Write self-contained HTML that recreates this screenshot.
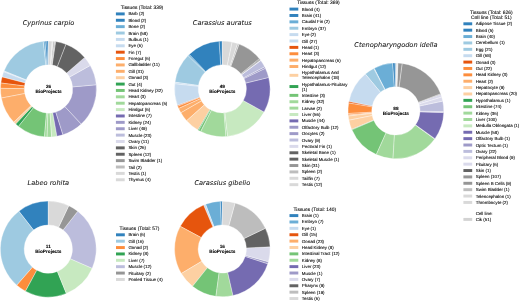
<!DOCTYPE html>
<html><head><meta charset="utf-8"><title>BioProjects tissues</title>
<style>
html,body{margin:0;padding:0;background:#fff}
svg{display:block;opacity:0.999;will-change:transform}
text{text-rendering:geometricPrecision}
.t{font-family:"DejaVu Sans","Liberation Sans",sans-serif;font-style:italic;font-size:6.6px;fill:#111;stroke:#111;stroke-width:0.05px;text-anchor:middle}
.c{font-family:"Liberation Sans",sans-serif;font-weight:bold;font-size:4.72px;fill:#000;stroke:#000;stroke-width:0.08px;text-anchor:middle}
.l{font-family:"Liberation Sans",sans-serif;font-size:4.43px;fill:#000;stroke:#000;stroke-width:0.08px}
.h{font-family:"Liberation Sans",sans-serif;font-size:4.9px;fill:#000;stroke:#000;stroke-width:0.08px;text-anchor:middle}
.w path{stroke:#fff;stroke-width:0.35;stroke-linejoin:round}
</style></head><body>
<svg width="520" height="302" viewBox="0 0 520 302">
<rect width="520" height="302" fill="#fff"/>
<g class="w"><path d="M48.5 41A48 48 0 0 0 46.72 41.03L47.61 64.87A24.14 24.14 0 0 1 48.5 64.86Z" fill="#3182bd"/><path d="M46.72 41.03A48 48 0 0 0 44.94 41.13L46.71 64.92A24.14 24.14 0 0 1 47.61 64.87Z" fill="#3182bd"/><path d="M44.94 41.13A48 48 0 0 0 43.17 41.3L45.82 65.01A24.14 24.14 0 0 1 46.71 64.92Z" fill="#6baed6"/><path d="M43.17 41.3A48 48 0 0 0 4.01 70.99L26.12 79.94A24.14 24.14 0 0 1 45.82 65.01Z" fill="#9ecae1"/><path d="M4.01 70.99A48 48 0 0 0 3.68 71.82L25.96 80.36A24.14 24.14 0 0 1 26.12 79.94Z" fill="#c6dbef"/><path d="M3.68 71.82A48 48 0 0 0 2.05 76.9L25.14 82.91A24.14 24.14 0 0 1 25.96 80.36Z" fill="#c6dbef"/><path d="M2.05 76.9A48 48 0 0 0 0.88 83.01L24.54 85.99A24.14 24.14 0 0 1 25.14 82.91Z" fill="#e6550d"/><path d="M0.88 83.01A48 48 0 0 0 0.5 88.33L24.36 88.66A24.14 24.14 0 0 1 24.54 85.99Z" fill="#fd8d3c"/><path d="M0.5 88.33A48 48 0 0 0 1.36 98.06L24.79 93.56A24.14 24.14 0 0 1 24.36 88.66Z" fill="#fdae6b"/><path d="M1.36 98.06A48 48 0 0 0 13.86 122.23L31.08 105.71A24.14 24.14 0 0 1 24.79 93.56Z" fill="#fdae6b"/><path d="M13.86 122.23A48 48 0 0 0 15.76 124.1L32.03 106.66A24.14 24.14 0 0 1 31.08 105.71Z" fill="#fdd0a2"/><path d="M15.76 124.1A48 48 0 0 0 18.45 126.43L33.38 107.83A24.14 24.14 0 0 1 32.03 106.66Z" fill="#31a354"/><path d="M18.45 126.43A48 48 0 0 0 44.5 136.83L46.49 113.06A24.14 24.14 0 0 1 33.38 107.83Z" fill="#74c476"/><path d="M44.5 136.83A48 48 0 0 0 47.17 136.98L47.83 113.13A24.14 24.14 0 0 1 46.49 113.06Z" fill="#a1d99b"/><path d="M47.17 136.98A48 48 0 0 0 51.61 136.9L50.07 113.09A24.14 24.14 0 0 1 47.83 113.13Z" fill="#a1d99b"/><path d="M51.61 136.9A48 48 0 0 0 56.91 136.26L52.73 112.77A24.14 24.14 0 0 1 50.07 113.09Z" fill="#c7e9c0"/><path d="M56.91 136.26A48 48 0 0 0 62.95 134.77L55.77 112.02A24.14 24.14 0 0 1 52.73 112.77Z" fill="#756bb1"/><path d="M62.95 134.77A48 48 0 0 0 81.24 124.1L64.97 106.66A24.14 24.14 0 0 1 55.77 112.02Z" fill="#9e9ac8"/><path d="M81.24 124.1A48 48 0 0 0 96.31 84.78L72.55 86.88A24.14 24.14 0 0 1 64.97 106.66Z" fill="#9e9ac8"/><path d="M96.31 84.78A48 48 0 0 0 90.29 65.39L69.52 77.12A24.14 24.14 0 0 1 72.55 86.88Z" fill="#bcbddc"/><path d="M90.29 65.39A48 48 0 0 0 84.64 57.41L66.68 73.11A24.14 24.14 0 0 1 69.52 77.12Z" fill="#dadaeb"/><path d="M84.64 57.41A48 48 0 0 0 65.89 44.26L57.25 66.5A24.14 24.14 0 0 1 66.68 73.11Z" fill="#636363"/><path d="M65.89 44.26A48 48 0 0 0 55.59 41.53L52.07 65.12A24.14 24.14 0 0 1 57.25 66.5Z" fill="#636363"/><path d="M55.59 41.53A48 48 0 0 0 54.71 41.4L51.62 65.06A24.14 24.14 0 0 1 52.07 65.12Z" fill="#969696"/><path d="M54.71 41.4A48 48 0 0 0 52.94 41.21L50.73 64.96A24.14 24.14 0 0 1 51.62 65.06Z" fill="#bdbdbd"/><path d="M52.94 41.21A48 48 0 0 0 52.06 41.13L50.29 64.92A24.14 24.14 0 0 1 50.73 64.96Z" fill="#d9d9d9"/><path d="M52.06 41.13A48 48 0 0 0 48.5 41L48.5 64.86A24.14 24.14 0 0 1 50.29 64.92Z" fill="#d9d9d9"/></g>
<text class="t" x="48.5" y="24.7">Cyprinus carpio</text>
<text class="c" x="48.5" y="88.1">26</text><text class="c" x="48.5" y="92.95">BioProjects</text>
<text class="h" x="142" y="9.2">Tissues (Total: 339)</text><rect x="115.9" y="12.43" width="8.8" height="2.95" fill="#3182bd"/><text class="l" x="128.4" y="15.4">Barb (2)</text>
<rect x="115.9" y="18.8" width="8.8" height="2.95" fill="#3182bd"/><text class="l" x="128.4" y="21.78">Blood (2)</text>
<rect x="115.9" y="25.18" width="8.8" height="2.95" fill="#6baed6"/><text class="l" x="128.4" y="28.16">Bone (2)</text>
<rect x="115.9" y="31.56" width="8.8" height="2.95" fill="#9ecae1"/><text class="l" x="128.4" y="34.54">Brain (58)</text>
<rect x="115.9" y="37.95" width="8.8" height="2.95" fill="#c6dbef"/><text class="l" x="128.4" y="40.92">Bulbus (1)</text>
<rect x="115.9" y="44.33" width="8.8" height="2.95" fill="#c6dbef"/><text class="l" x="128.4" y="47.3">Eye (6)</text>
<rect x="115.9" y="50.71" width="8.8" height="2.95" fill="#e6550d"/><text class="l" x="128.4" y="53.68">Fin (7)</text>
<rect x="115.9" y="57.09" width="8.8" height="2.95" fill="#fd8d3c"/><text class="l" x="128.4" y="60.06">Foregut (6)</text>
<rect x="115.9" y="63.47" width="8.8" height="2.95" fill="#fdae6b"/><text class="l" x="128.4" y="66.44">Gallbladder (11)</text>
<rect x="115.9" y="69.85" width="8.8" height="2.95" fill="#fdae6b"/><text class="l" x="128.4" y="72.82">Gill (31)</text>
<rect x="115.9" y="76.23" width="8.8" height="2.95" fill="#fdd0a2"/><text class="l" x="128.4" y="79.2">Gonad (3)</text>
<rect x="115.9" y="82.61" width="8.8" height="2.95" fill="#31a354"/><text class="l" x="128.4" y="85.58">Gut (4)</text>
<rect x="115.9" y="88.98" width="8.8" height="2.95" fill="#74c476"/><text class="l" x="128.4" y="91.96">Head Kidney (32)</text>
<rect x="115.9" y="95.36" width="8.8" height="2.95" fill="#a1d99b"/><text class="l" x="128.4" y="98.34">Heart (3)</text>
<rect x="115.9" y="101.74" width="8.8" height="2.95" fill="#a1d99b"/><text class="l" x="128.4" y="104.72">Hepatopancreas (5)</text>
<rect x="115.9" y="108.12" width="8.8" height="2.95" fill="#c7e9c0"/><text class="l" x="128.4" y="111.1">Hindgut (6)</text>
<rect x="115.9" y="114.5" width="8.8" height="2.95" fill="#756bb1"/><text class="l" x="128.4" y="117.48">Intestine (7)</text>
<rect x="115.9" y="120.88" width="8.8" height="2.95" fill="#9e9ac8"/><text class="l" x="128.4" y="123.86">Kidney (24)</text>
<rect x="115.9" y="127.26" width="8.8" height="2.95" fill="#9e9ac8"/><text class="l" x="128.4" y="130.24">Liver (49)</text>
<rect x="115.9" y="133.64" width="8.8" height="2.95" fill="#bcbddc"/><text class="l" x="128.4" y="136.62">Muscle (23)</text>
<rect x="115.9" y="140.02" width="8.8" height="2.95" fill="#dadaeb"/><text class="l" x="128.4" y="143">Ovary (11)</text>
<rect x="115.9" y="146.4" width="8.8" height="2.95" fill="#636363"/><text class="l" x="128.4" y="149.38">Skin (26)</text>
<rect x="115.9" y="152.78" width="8.8" height="2.95" fill="#636363"/><text class="l" x="128.4" y="155.76">Spleen (12)</text>
<rect x="115.9" y="159.16" width="8.8" height="2.95" fill="#969696"/><text class="l" x="128.4" y="162.14">Swim Bladder (1)</text>
<rect x="115.9" y="165.54" width="8.8" height="2.95" fill="#bdbdbd"/><text class="l" x="128.4" y="168.52">Tail (2)</text>
<rect x="115.9" y="171.92" width="8.8" height="2.95" fill="#d9d9d9"/><text class="l" x="128.4" y="174.9">Testis (1)</text>
<rect x="115.9" y="178.3" width="8.8" height="2.95" fill="#d9d9d9"/><text class="l" x="128.4" y="181.28">Thymus (4)</text>
<g class="w"><path d="M222.3 41.1A47.8 47.8 0 0 0 219.05 41.21L220.66 64.91A24.04 24.04 0 0 1 222.3 64.86Z" fill="#3182bd"/><path d="M219.05 41.21A47.8 47.8 0 0 0 189.15 54.46L205.63 71.58A24.04 24.04 0 0 1 220.66 64.91Z" fill="#3182bd"/><path d="M189.15 54.46A47.8 47.8 0 0 0 188 55.61L205.05 72.15A24.04 24.04 0 0 1 205.63 71.58Z" fill="#6baed6"/><path d="M188 55.61A47.8 47.8 0 0 0 174.97 82.21L198.49 85.53A24.04 24.04 0 0 1 205.05 72.15Z" fill="#9ecae1"/><path d="M174.97 82.21A47.8 47.8 0 0 0 174.77 83.82L198.39 86.35A24.04 24.04 0 0 1 198.49 85.53Z" fill="#c6dbef"/><path d="M174.77 83.82A47.8 47.8 0 0 0 177.45 105.44L199.74 97.22A24.04 24.04 0 0 1 198.39 86.35Z" fill="#c6dbef"/><path d="M177.45 105.44A47.8 47.8 0 0 0 177.74 106.2L199.89 97.6A24.04 24.04 0 0 1 199.74 97.22Z" fill="#e6550d"/><path d="M177.74 106.2A47.8 47.8 0 0 0 178.68 108.45L200.36 98.74A24.04 24.04 0 0 1 199.89 97.6Z" fill="#fd8d3c"/><path d="M178.68 108.45A47.8 47.8 0 0 0 180.9 112.8L201.48 100.92A24.04 24.04 0 0 1 200.36 98.74Z" fill="#fdae6b"/><path d="M180.9 112.8A47.8 47.8 0 0 0 186.61 120.7L204.35 104.9A24.04 24.04 0 0 1 201.48 100.92Z" fill="#fdae6b"/><path d="M186.61 120.7A47.8 47.8 0 0 0 197.87 129.99L210.01 109.57A24.04 24.04 0 0 1 204.35 104.9Z" fill="#fdd0a2"/><path d="M197.87 129.99A47.8 47.8 0 0 0 198.58 130.4L210.37 109.77A24.04 24.04 0 0 1 210.01 109.57Z" fill="#31a354"/><path d="M198.58 130.4A47.8 47.8 0 0 0 200.73 131.55L211.45 110.36A24.04 24.04 0 0 1 210.37 109.77Z" fill="#74c476"/><path d="M200.73 131.55A47.8 47.8 0 0 0 225.96 136.56L224.14 112.87A24.04 24.04 0 0 1 211.45 110.36Z" fill="#a1d99b"/><path d="M225.96 136.56A47.8 47.8 0 0 0 227.58 136.41L224.96 112.8A24.04 24.04 0 0 1 224.14 112.87Z" fill="#a1d99b"/><path d="M227.58 136.41A47.8 47.8 0 0 0 264.1 112.09L243.32 100.57A24.04 24.04 0 0 1 224.96 112.8Z" fill="#c7e9c0"/><path d="M264.1 112.09A47.8 47.8 0 0 0 268.7 77.42L245.64 83.12A24.04 24.04 0 0 1 243.32 100.57Z" fill="#756bb1"/><path d="M268.7 77.42A47.8 47.8 0 0 0 265.4 68.24L243.98 78.51A24.04 24.04 0 0 1 245.64 83.12Z" fill="#9e9ac8"/><path d="M265.4 68.24A47.8 47.8 0 0 0 264.68 66.78L243.61 77.78A24.04 24.04 0 0 1 243.98 78.51Z" fill="#9e9ac8"/><path d="M264.68 66.78A47.8 47.8 0 0 0 260.8 60.57L241.67 74.65A24.04 24.04 0 0 1 243.61 77.78Z" fill="#bcbddc"/><path d="M260.8 60.57A47.8 47.8 0 0 0 260.31 59.92L241.42 74.32A24.04 24.04 0 0 1 241.67 74.65Z" fill="#dadaeb"/><path d="M260.31 59.92A47.8 47.8 0 0 0 259.82 59.28L241.17 74A24.04 24.04 0 0 1 241.42 74.32Z" fill="#636363"/><path d="M259.82 59.28A47.8 47.8 0 0 0 259.31 58.64L240.91 73.68A24.04 24.04 0 0 1 241.17 74Z" fill="#636363"/><path d="M259.31 58.64A47.8 47.8 0 0 0 239.03 44.12L230.72 66.38A24.04 24.04 0 0 1 240.91 73.68Z" fill="#969696"/><path d="M239.03 44.12A47.8 47.8 0 0 0 237.5 43.58L229.94 66.1A24.04 24.04 0 0 1 230.72 66.38Z" fill="#bdbdbd"/><path d="M237.5 43.58A47.8 47.8 0 0 0 232 42.09L227.18 65.36A24.04 24.04 0 0 1 229.94 66.1Z" fill="#d9d9d9"/><path d="M232 42.09A47.8 47.8 0 0 0 222.3 41.1L222.3 64.86A24.04 24.04 0 0 1 227.18 65.36Z" fill="#d9d9d9"/></g>
<text class="t" x="222.3" y="24.6">Carassius auratus</text>
<text class="c" x="222.3" y="88">49</text><text class="c" x="222.3" y="92.85">BioProjects</text>
<text class="h" x="318.5" y="4">Tissues (Total: 369)</text><rect x="289.5" y="7.62" width="8.8" height="2.95" fill="#3182bd"/><text class="l" x="301.8" y="10.6">Blood (4)</text>
<rect x="289.5" y="14.01" width="8.8" height="2.95" fill="#3182bd"/><text class="l" x="301.8" y="16.98">Brain (41)</text>
<rect x="289.5" y="20.38" width="8.8" height="2.95" fill="#6baed6"/><text class="l" x="301.8" y="23.36">Caudal Fin (2)</text>
<rect x="289.5" y="26.76" width="8.8" height="2.95" fill="#9ecae1"/><text class="l" x="301.8" y="29.74">Embryo (37)</text>
<rect x="289.5" y="33.14" width="8.8" height="2.95" fill="#c6dbef"/><text class="l" x="301.8" y="36.12">Eye (2)</text>
<rect x="289.5" y="39.52" width="8.8" height="2.95" fill="#c6dbef"/><text class="l" x="301.8" y="42.5">Gill (27)</text>
<rect x="289.5" y="45.91" width="8.8" height="2.95" fill="#e6550d"/><text class="l" x="301.8" y="48.88">Head (1)</text>
<rect x="289.5" y="52.29" width="8.8" height="2.95" fill="#fd8d3c"/><text class="l" x="301.8" y="55.26">Heart (3)</text>
<rect x="289.5" y="58.67" width="8.8" height="2.95" fill="#fdae6b"/><text class="l" x="301.8" y="61.64">Hepatopancreas (6)</text>
<rect x="289.5" y="65.05" width="8.8" height="2.95" fill="#fdae6b"/><text class="l" x="301.8" y="68.02">Hindgut (12)</text>
<rect x="289.5" y="73.85" width="8.8" height="2.95" fill="#fdd0a2"/><text class="l" x="301.8" y="74.33">Hypothalamus And</text><text class="l" x="301.8" y="79.33">Telencephalon (18)</text>
<rect x="289.5" y="85.08" width="8.8" height="2.95" fill="#31a354"/><text class="l" x="301.8" y="85.56">Hypothalamus-Pituitary</text><text class="l" x="301.8" y="90.56">(1)</text>
<rect x="289.5" y="93.89" width="8.8" height="2.95" fill="#74c476"/><text class="l" x="301.8" y="96.86">Intestine (3)</text>
<rect x="289.5" y="100.27" width="8.8" height="2.95" fill="#a1d99b"/><text class="l" x="301.8" y="103.24">Kidney (32)</text>
<rect x="289.5" y="106.65" width="8.8" height="2.95" fill="#a1d99b"/><text class="l" x="301.8" y="109.62">Larvae (2)</text>
<rect x="289.5" y="113.03" width="8.8" height="2.95" fill="#c7e9c0"/><text class="l" x="301.8" y="116">Liver (56)</text>
<rect x="289.5" y="119.41" width="8.8" height="2.95" fill="#756bb1"/><text class="l" x="301.8" y="122.38">Muscle (44)</text>
<rect x="289.5" y="125.78" width="8.8" height="2.95" fill="#9e9ac8"/><text class="l" x="301.8" y="128.76">Olfactory Bulb (12)</text>
<rect x="289.5" y="132.16" width="8.8" height="2.95" fill="#9e9ac8"/><text class="l" x="301.8" y="135.14">Oocytes (2)</text>
<rect x="289.5" y="138.54" width="8.8" height="2.95" fill="#bcbddc"/><text class="l" x="301.8" y="141.52">Ovary (9)</text>
<rect x="289.5" y="144.92" width="8.8" height="2.95" fill="#dadaeb"/><text class="l" x="301.8" y="147.9">Pectoral Fin (1)</text>
<rect x="289.5" y="151.3" width="8.8" height="2.95" fill="#636363"/><text class="l" x="301.8" y="154.28">Skeletal Bone (1)</text>
<rect x="289.5" y="157.68" width="8.8" height="2.95" fill="#636363"/><text class="l" x="301.8" y="160.66">Skeletal Muscle (1)</text>
<rect x="289.5" y="164.06" width="8.8" height="2.95" fill="#969696"/><text class="l" x="301.8" y="167.04">Skin (31)</text>
<rect x="289.5" y="170.44" width="8.8" height="2.95" fill="#bdbdbd"/><text class="l" x="301.8" y="173.42">Spleen (2)</text>
<rect x="289.5" y="176.82" width="8.8" height="2.95" fill="#d9d9d9"/><text class="l" x="301.8" y="179.8">Tailfin (7)</text>
<rect x="289.5" y="183.2" width="8.8" height="2.95" fill="#d9d9d9"/><text class="l" x="301.8" y="186.18">Testis (12)</text>
<g class="w"><path d="M395.9 63A47.9 47.9 0 0 0 394.94 63.01L395.42 86.81A24.09 24.09 0 0 1 395.9 86.81Z" fill="#3182bd"/><path d="M394.94 63.01A47.9 47.9 0 0 0 392.54 63.12L394.21 86.87A24.09 24.09 0 0 1 395.42 86.81Z" fill="#3182bd"/><path d="M392.54 63.12A47.9 47.9 0 0 0 374.13 68.23L384.95 89.44A24.09 24.09 0 0 1 394.21 86.87Z" fill="#6baed6"/><path d="M374.13 68.23A47.9 47.9 0 0 0 373.71 68.45L384.74 89.55A24.09 24.09 0 0 1 384.95 89.44Z" fill="#9ecae1"/><path d="M373.71 68.45A47.9 47.9 0 0 0 365.32 74.04L380.52 92.36A24.09 24.09 0 0 1 384.74 89.55Z" fill="#9ecae1"/><path d="M365.32 74.04A47.9 47.9 0 0 0 348.91 101.58L372.27 106.21A24.09 24.09 0 0 1 380.52 92.36Z" fill="#c6dbef"/><path d="M348.91 101.58A47.9 47.9 0 0 0 348.66 103L372.14 106.93A24.09 24.09 0 0 1 372.27 106.21Z" fill="#e6550d"/><path d="M348.66 103A47.9 47.9 0 0 0 348.07 113.54L371.84 112.23A24.09 24.09 0 0 1 372.14 106.93Z" fill="#fd8d3c"/><path d="M348.07 113.54A47.9 47.9 0 0 0 348.17 114.98L371.89 112.95A24.09 24.09 0 0 1 371.84 112.23Z" fill="#fd8d3c"/><path d="M348.17 114.98A47.9 47.9 0 0 0 348.27 115.94L371.94 113.43A24.09 24.09 0 0 1 371.89 112.95Z" fill="#fdae6b"/><path d="M348.27 115.94A47.9 47.9 0 0 0 348.91 120.22L372.27 115.59A24.09 24.09 0 0 1 371.94 113.43Z" fill="#fdd0a2"/><path d="M348.91 120.22A47.9 47.9 0 0 0 351.72 129.4L373.68 120.2A24.09 24.09 0 0 1 372.27 115.59Z" fill="#fdd0a2"/><path d="M351.72 129.4A47.9 47.9 0 0 0 351.9 129.84L373.77 120.43A24.09 24.09 0 0 1 373.68 120.2Z" fill="#31a354"/><path d="M351.9 129.84A47.9 47.9 0 0 0 376.3 154.61L386.04 132.88A24.09 24.09 0 0 1 373.77 120.43Z" fill="#74c476"/><path d="M376.3 154.61A47.9 47.9 0 0 0 393.02 158.71L394.45 134.95A24.09 24.09 0 0 1 386.04 132.88Z" fill="#a1d99b"/><path d="M393.02 158.71A47.9 47.9 0 0 0 434.68 139.02L415.41 125.04A24.09 24.09 0 0 1 394.45 134.95Z" fill="#a1d99b"/><path d="M434.68 139.02A47.9 47.9 0 0 0 434.96 138.63L415.55 124.85A24.09 24.09 0 0 1 415.41 125.04Z" fill="#c7e9c0"/><path d="M434.96 138.63A47.9 47.9 0 0 0 443.77 112.58L419.98 111.75A24.09 24.09 0 0 1 415.55 124.85Z" fill="#756bb1"/><path d="M443.77 112.58A47.9 47.9 0 0 0 443.78 112.1L419.99 111.5A24.09 24.09 0 0 1 419.98 111.75Z" fill="#756bb1"/><path d="M443.78 112.1A47.9 47.9 0 0 0 443.79 111.62L419.99 111.26A24.09 24.09 0 0 1 419.99 111.5Z" fill="#9e9ac8"/><path d="M443.79 111.62A47.9 47.9 0 0 0 442.79 101.11L419.49 105.98A24.09 24.09 0 0 1 419.99 111.26Z" fill="#bcbddc"/><path d="M442.79 101.11A47.9 47.9 0 0 0 441.72 96.92L418.95 103.87A24.09 24.09 0 0 1 419.49 105.98Z" fill="#dadaeb"/><path d="M441.72 96.92A47.9 47.9 0 0 0 440.79 94.19L418.48 102.5A24.09 24.09 0 0 1 418.95 103.87Z" fill="#dadaeb"/><path d="M440.79 94.19A47.9 47.9 0 0 0 440.62 93.74L418.39 102.27A24.09 24.09 0 0 1 418.48 102.5Z" fill="#636363"/><path d="M440.62 93.74A47.9 47.9 0 0 0 402.13 63.41L399.03 87.01A24.09 24.09 0 0 1 418.39 102.27Z" fill="#969696"/><path d="M402.13 63.41A47.9 47.9 0 0 0 397.82 63.04L396.87 86.83A24.09 24.09 0 0 1 399.03 87.01Z" fill="#969696"/><path d="M397.82 63.04A47.9 47.9 0 0 0 397.34 63.02L396.63 86.82A24.09 24.09 0 0 1 396.87 86.83Z" fill="#bdbdbd"/><path d="M397.34 63.02A47.9 47.9 0 0 0 396.86 63.01L396.38 86.81A24.09 24.09 0 0 1 396.63 86.82Z" fill="#d9d9d9"/><path d="M396.86 63.01A47.9 47.9 0 0 0 395.9 63L395.9 86.81A24.09 24.09 0 0 1 396.38 86.81Z" fill="#d9d9d9"/></g>
<text class="t" x="395.9" y="46.6">Ctenopharyngodon idella</text>
<text class="c" x="395.9" y="110">88</text><text class="c" x="395.9" y="114.85">BioProjects</text>
<text class="h" x="491.3" y="13.6">Tissues (Total: 626)</text><text class="h" x="491.3" y="18.8">Cell line (Total: 51)</text><rect x="463.4" y="22.32" width="8.8" height="2.95" fill="#3182bd"/><text class="l" x="475.7" y="25.3">Adipose Tissue (2)</text>
<rect x="463.4" y="28.7" width="8.8" height="2.95" fill="#3182bd"/><text class="l" x="475.7" y="31.68">Blood (5)</text>
<rect x="463.4" y="35.09" width="8.8" height="2.95" fill="#6baed6"/><text class="l" x="475.7" y="38.06">Brain (40)</text>
<rect x="463.4" y="41.47" width="8.8" height="2.95" fill="#9ecae1"/><text class="l" x="475.7" y="44.44">Cerebellum (1)</text>
<rect x="463.4" y="47.85" width="8.8" height="2.95" fill="#9ecae1"/><text class="l" x="475.7" y="50.82">Egg (21)</text>
<rect x="463.4" y="54.23" width="8.8" height="2.95" fill="#c6dbef"/><text class="l" x="475.7" y="57.2">Gill (68)</text>
<rect x="463.4" y="60.61" width="8.8" height="2.95" fill="#e6550d"/><text class="l" x="475.7" y="63.58">Gonad (3)</text>
<rect x="463.4" y="66.99" width="8.8" height="2.95" fill="#fd8d3c"/><text class="l" x="475.7" y="69.96">Gut (22)</text>
<rect x="463.4" y="73.37" width="8.8" height="2.95" fill="#fd8d3c"/><text class="l" x="475.7" y="76.34">Head Kidney (3)</text>
<rect x="463.4" y="79.75" width="8.8" height="2.95" fill="#fdae6b"/><text class="l" x="475.7" y="82.72">Heart (2)</text>
<rect x="463.4" y="86.12" width="8.8" height="2.95" fill="#fdd0a2"/><text class="l" x="475.7" y="89.1">Hepatocyte (9)</text>
<rect x="463.4" y="92.5" width="8.8" height="2.95" fill="#fdd0a2"/><text class="l" x="475.7" y="95.48">Hepatopancreas (20)</text>
<rect x="463.4" y="98.88" width="8.8" height="2.95" fill="#31a354"/><text class="l" x="475.7" y="101.86">Hypothalamus (1)</text>
<rect x="463.4" y="105.26" width="8.8" height="2.95" fill="#74c476"/><text class="l" x="475.7" y="108.24">Intestine (74)</text>
<rect x="463.4" y="111.64" width="8.8" height="2.95" fill="#a1d99b"/><text class="l" x="475.7" y="114.62">Kidney (36)</text>
<rect x="463.4" y="118.02" width="8.8" height="2.95" fill="#a1d99b"/><text class="l" x="475.7" y="121">Liver (100)</text>
<rect x="463.4" y="124.4" width="8.8" height="2.95" fill="#c7e9c0"/><text class="l" x="475.7" y="127.38">Medulla Oblongata (1)</text>
<rect x="463.4" y="130.78" width="8.8" height="2.95" fill="#756bb1"/><text class="l" x="475.7" y="133.76">Muscle (58)</text>
<rect x="463.4" y="137.16" width="8.8" height="2.95" fill="#756bb1"/><text class="l" x="475.7" y="140.14">Olfactory Bulb (1)</text>
<rect x="463.4" y="143.54" width="8.8" height="2.95" fill="#9e9ac8"/><text class="l" x="475.7" y="146.52">Optic Tectum (1)</text>
<rect x="463.4" y="149.92" width="8.8" height="2.95" fill="#bcbddc"/><text class="l" x="475.7" y="152.9">Ovary (22)</text>
<rect x="463.4" y="156.3" width="8.8" height="2.95" fill="#dadaeb"/><text class="l" x="475.7" y="159.28">Peripheral Blood (9)</text>
<rect x="463.4" y="162.68" width="8.8" height="2.95" fill="#dadaeb"/><text class="l" x="475.7" y="165.66">Pituitary (6)</text>
<rect x="463.4" y="169.06" width="8.8" height="2.95" fill="#636363"/><text class="l" x="475.7" y="172.04">Skin (1)</text>
<rect x="463.4" y="175.44" width="8.8" height="2.95" fill="#969696"/><text class="l" x="475.7" y="178.42">Spleen (107)</text>
<rect x="463.4" y="181.82" width="8.8" height="2.95" fill="#969696"/><text class="l" x="475.7" y="184.8">Spleen B Cells (9)</text>
<rect x="463.4" y="188.2" width="8.8" height="2.95" fill="#bdbdbd"/><text class="l" x="475.7" y="191.18">Swim Bladder (1)</text>
<rect x="463.4" y="194.58" width="8.8" height="2.95" fill="#d9d9d9"/><text class="l" x="475.7" y="197.56">Telencephalon (1)</text>
<rect x="463.4" y="200.96" width="8.8" height="2.95" fill="#d9d9d9"/><text class="l" x="475.7" y="203.94">Thrombocyte (2)</text>
<text class="l" x="475.7" y="214.7">Cell line:</text>
<rect x="463.4" y="217.93" width="8.8" height="2.95" fill="#d3d3d3"/><text class="l" x="475.7" y="220.9">Cik (51)</text>
<g class="w"><path d="M48.3 201.1A47.95 47.95 0 0 0 18.85 211.21L33.49 230.02A24.12 24.12 0 0 1 48.3 224.93Z" fill="#3182bd"/><path d="M18.85 211.21A47.95 47.95 0 0 0 16.81 285.21L32.46 267.24A24.12 24.12 0 0 1 33.49 230.02Z" fill="#9ecae1"/><path d="M16.81 285.21A47.95 47.95 0 0 0 25.48 291.22L36.82 270.26A24.12 24.12 0 0 1 32.46 267.24Z" fill="#fd8d3c"/><path d="M25.48 291.22A47.95 47.95 0 0 0 66.34 293.48L57.38 271.4A24.12 24.12 0 0 1 36.82 270.26Z" fill="#31a354"/><path d="M66.34 293.48A47.95 47.95 0 0 0 92.21 268.31L70.39 258.74A24.12 24.12 0 0 1 57.38 271.4Z" fill="#c7e9c0"/><path d="M92.21 268.31A47.95 47.95 0 0 0 77.75 211.21L63.11 230.02A24.12 24.12 0 0 1 70.39 258.74Z" fill="#bcbddc"/><path d="M77.75 211.21A47.95 47.95 0 0 0 68.76 205.69L58.59 227.24A24.12 24.12 0 0 1 63.11 230.02Z" fill="#969696"/><path d="M68.76 205.69A47.95 47.95 0 0 0 48.3 201.1L48.3 224.93A24.12 24.12 0 0 1 58.59 227.24Z" fill="#d9d9d9"/></g>
<text class="t" x="48.3" y="185">Labeo rohita</text>
<text class="c" x="48.3" y="248.15">11</text><text class="c" x="48.3" y="253">BioProjects</text>
<text class="h" x="139.5" y="230.2">Tissues (Total: 57)</text><rect x="116" y="233.33" width="8.8" height="2.95" fill="#3182bd"/><text class="l" x="128.4" y="236.3">Brain (6)</text>
<rect x="116" y="239.71" width="8.8" height="2.95" fill="#9ecae1"/><text class="l" x="128.4" y="242.68">Gill (16)</text>
<rect x="116" y="246.09" width="8.8" height="2.95" fill="#fd8d3c"/><text class="l" x="128.4" y="249.06">Gonad (2)</text>
<rect x="116" y="252.47" width="8.8" height="2.95" fill="#31a354"/><text class="l" x="128.4" y="255.44">Kidney (8)</text>
<rect x="116" y="258.84" width="8.8" height="2.95" fill="#c7e9c0"/><text class="l" x="128.4" y="261.82">Liver (7)</text>
<rect x="116" y="265.22" width="8.8" height="2.95" fill="#bcbddc"/><text class="l" x="128.4" y="268.2">Muscle (12)</text>
<rect x="116" y="271.6" width="8.8" height="2.95" fill="#969696"/><text class="l" x="128.4" y="274.58">Pituitary (2)</text>
<rect x="116" y="277.98" width="8.8" height="2.95" fill="#d9d9d9"/><text class="l" x="128.4" y="280.96">Pooled Tissue (4)</text>
<g class="w"><path d="M222.35 201.2A47.8 47.8 0 0 0 220.21 201.25L221.27 224.98A24.04 24.04 0 0 1 222.35 224.96Z" fill="#3182bd"/><path d="M220.21 201.25A47.8 47.8 0 0 0 205.55 204.25L213.9 226.49A24.04 24.04 0 0 1 221.27 224.98Z" fill="#6baed6"/><path d="M205.55 204.25A47.8 47.8 0 0 0 203.56 205.05L212.9 226.89A24.04 24.04 0 0 1 213.9 226.49Z" fill="#c6dbef"/><path d="M203.56 205.05A47.8 47.8 0 0 0 180.26 226.35L201.18 237.61A24.04 24.04 0 0 1 212.9 226.89Z" fill="#e6550d"/><path d="M180.26 226.35A47.8 47.8 0 0 0 181.32 273.52L201.71 261.33A24.04 24.04 0 0 1 201.18 237.61Z" fill="#fdae6b"/><path d="M181.32 273.52A47.8 47.8 0 0 0 192.55 286.37L207.36 267.8A24.04 24.04 0 0 1 201.71 261.33Z" fill="#fdd0a2"/><path d="M192.55 286.37A47.8 47.8 0 0 0 215.93 296.37L219.12 272.83A24.04 24.04 0 0 1 207.36 267.8Z" fill="#74c476"/><path d="M215.93 296.37A47.8 47.8 0 0 0 232.99 295.6L227.7 272.44A24.04 24.04 0 0 1 219.12 272.83Z" fill="#a1d99b"/><path d="M232.99 295.6A47.8 47.8 0 0 0 267.81 263.77L245.22 256.43A24.04 24.04 0 0 1 227.7 272.44Z" fill="#756bb1"/><path d="M267.81 263.77A47.8 47.8 0 0 0 268.43 261.72L245.53 255.4A24.04 24.04 0 0 1 245.22 256.43Z" fill="#9e9ac8"/><path d="M268.43 261.72A47.8 47.8 0 0 0 270.1 246.86L246.37 247.92A24.04 24.04 0 0 1 245.53 255.4Z" fill="#dadaeb"/><path d="M270.1 246.86A47.8 47.8 0 0 0 265.42 228.26L244.01 238.57A24.04 24.04 0 0 1 246.37 247.92Z" fill="#636363"/><path d="M265.42 228.26A47.8 47.8 0 0 0 235.07 202.92L228.75 225.82A24.04 24.04 0 0 1 244.01 238.57Z" fill="#bdbdbd"/><path d="M235.07 202.92A47.8 47.8 0 0 0 222.35 201.2L222.35 224.96A24.04 24.04 0 0 1 228.75 225.82Z" fill="#d9d9d9"/></g>
<text class="t" x="222.35" y="184.7">Carassius gibelio</text>
<text class="c" x="222.35" y="248.1">16</text><text class="c" x="222.35" y="252.95">BioProjects</text>
<text class="h" x="314.8" y="211">Tissues (Total: 140)</text><rect x="289.5" y="214.12" width="8.8" height="2.95" fill="#3182bd"/><text class="l" x="301.8" y="217.1">Brain (1)</text>
<rect x="289.5" y="220.5" width="8.8" height="2.95" fill="#6baed6"/><text class="l" x="301.8" y="223.48">Embryo (7)</text>
<rect x="289.5" y="226.88" width="8.8" height="2.95" fill="#c6dbef"/><text class="l" x="301.8" y="229.86">Eye (1)</text>
<rect x="289.5" y="233.26" width="8.8" height="2.95" fill="#e6550d"/><text class="l" x="301.8" y="236.24">Gill (15)</text>
<rect x="289.5" y="239.64" width="8.8" height="2.95" fill="#fdae6b"/><text class="l" x="301.8" y="242.62">Gonad (23)</text>
<rect x="289.5" y="246.02" width="8.8" height="2.95" fill="#fdd0a2"/><text class="l" x="301.8" y="249">Head Kidney (8)</text>
<rect x="289.5" y="252.4" width="8.8" height="2.95" fill="#74c476"/><text class="l" x="301.8" y="255.38">Intestinal Tract (12)</text>
<rect x="289.5" y="258.78" width="8.8" height="2.95" fill="#a1d99b"/><text class="l" x="301.8" y="261.76">Kidney (8)</text>
<rect x="289.5" y="265.16" width="8.8" height="2.95" fill="#756bb1"/><text class="l" x="301.8" y="268.14">Liver (23)</text>
<rect x="289.5" y="271.54" width="8.8" height="2.95" fill="#9e9ac8"/><text class="l" x="301.8" y="274.52">Muscle (1)</text>
<rect x="289.5" y="277.92" width="8.8" height="2.95" fill="#dadaeb"/><text class="l" x="301.8" y="280.9">Ovary (7)</text>
<rect x="289.5" y="284.3" width="8.8" height="2.95" fill="#636363"/><text class="l" x="301.8" y="287.28">Pharynx (9)</text>
<rect x="289.5" y="290.68" width="8.8" height="2.95" fill="#bdbdbd"/><text class="l" x="301.8" y="293.66">Spleen (19)</text>
<rect x="289.5" y="297.06" width="8.8" height="2.95" fill="#d9d9d9"/><text class="l" x="301.8" y="300.04">Testis (6)</text>
</svg>
</body></html>
